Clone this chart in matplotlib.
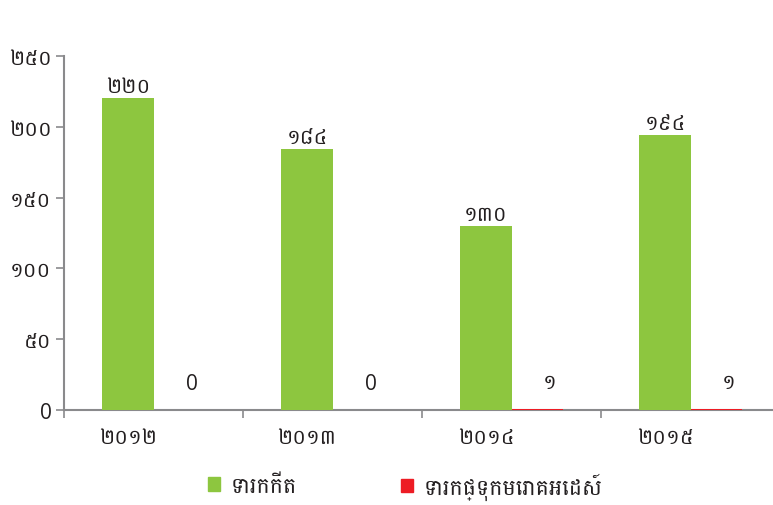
import matplotlib
matplotlib.use("Agg")
import matplotlib.pyplot as plt
import numpy as np
from matplotlib import font_manager
from matplotlib.patches import Rectangle

years = ["២០១២", "២០១៣", "២០១៤", "២០១៥"]
born = [220, 184, 130, 194]
infected = [0, 0, 1, 1]
born_labels = ["២២០", "១៨៤", "១៣០", "១៩៤"]
infected_labels = ["0", "0", "១", "១"]
yticks = [0, 50, 100, 150, 200, 250]
ytick_labels = ["0", "៥០", "១០០", "១៥០", "២០០", "២៥០"]
series_names = ["ទារកកើត", "ទារកផ្ទុកមេរោគអេដស៍"]

GREEN = "#8dc63f"
RED = "#ed1c24"
AXIS = "#8a8a8c"
TEXT = "#231f20"


def pick_khmer_font():
    names = {f.name for f in font_manager.fontManager.ttflist}
    for name in ["Battambang", "Kantumruy Pro", "Hanuman", "Content"]:
        if name in names:
            return name
    return None


kh = pick_khmer_font()
plt.rcParams["font.family"] = ["Open Sans", kh, "DejaVu Sans"] if kh else ["DejaVu Sans"]

fig = plt.figure(figsize=(7.73, 5.06), dpi=100)
W, H = 773, 506
# axes spans x 64..780 px, y 57..411 px (runs a bit past the right edge, like the original)
ax = fig.add_axes([64 / W, (H - 411) / H, (780 - 64) / W, (411 - 57) / H])

x = np.arange(len(years))
bw = 0.285
ax.bar(x - bw / 2, born, bw, color=GREEN, zorder=2)
ax.bar(x + bw / 2, infected, bw, color=RED, zorder=3)

for xi, v, lab in zip(x, born, born_labels):
    ax.text(xi - bw / 2, v + 1, lab, ha="center", va="bottom", fontsize=15, color=TEXT)
for xi, v, lab in zip(x, infected, infected_labels):
    ax.text(xi + bw / 2 + 0.07, v + 11, lab, ha="center", va="bottom", fontsize=15, color=TEXT)

ax.set_xlim(-0.5, 3.5)
ax.set_ylim(0, 250)
ax.set_yticks(yticks)
ax.set_yticklabels(ytick_labels, fontsize=15, color=TEXT)
ax.set_xticks(np.arange(-0.5, 3.6, 1))
ax.set_xticklabels([])
# year labels sit under the green bars
ax.set_xticks(x - bw / 2, minor=True)
ax.set_xticklabels(years, minor=True, fontsize=15, color=TEXT)
ax.tick_params(axis="x", which="minor", length=0, pad=12)
ax.tick_params(axis="x", which="major", length=6, color=AXIS, width=1.2)
ax.tick_params(axis="y", length=6, color=AXIS, width=1.2, pad=3)

for s in ["top", "right"]:
    ax.spines[s].set_visible(False)
for s in ["left", "bottom"]:
    ax.spines[s].set_color(AXIS)
    ax.spines[s].set_linewidth(1.5)
    ax.spines[s].set_zorder(1)

# legend along the bottom, one entry per legend so each can be placed
colors = [GREEN, RED]
lefts = [208, 401]
for name, c, left in zip(series_names, colors, lefts):
    lg = fig.legend([Rectangle((0, 0), 1, 1, color=c)], [name], loc="center left",
                    bbox_to_anchor=(left / W, (H - 487) / H), frameon=False, fontsize=16,
                    handlelength=0.55, handleheight=0.55, handletextpad=0.45,
                    borderpad=0, borderaxespad=0, labelcolor=TEXT)

fig.savefig("out.png", dpi=100)
